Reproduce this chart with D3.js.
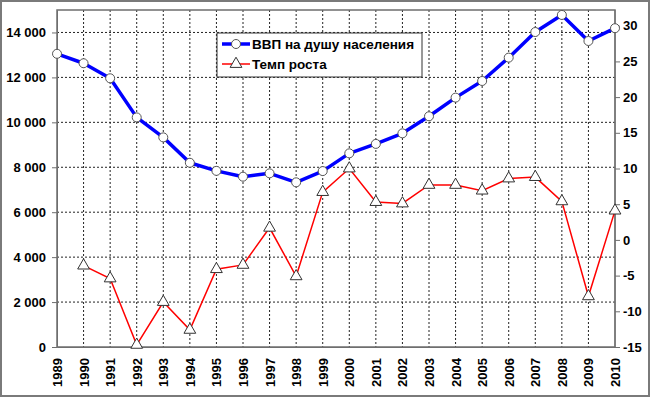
<!DOCTYPE html>
<html>
<head>
<meta charset="utf-8">
<script src="https://cdn.jsdelivr.net/npm/d3@7"></script>
<style>
  html, body { margin: 0; padding: 0; background: #fff; }
  svg { display: block; font-family: 'Liberation Sans', Arial, sans-serif; }
  .axis text { font-size: 13px; font-weight: bold; fill: #000; }
  .axis path, .axis line { stroke: #6e6e6e; }
  .grid line { stroke: #222; stroke-dasharray: 2 2; }
</style>
</head>
<body>
<div id="app"></div>
<script>
const years = d3.range(1989, 2011);
const gdpPerCapita = [13050, 12630, 11960, 10220, 9330, 8200, 7840, 7580, 7730, 7330, 7830,
  8620, 9040, 9510, 10270, 11100, 11840, 12880, 14020, 14780, 13620, 14190];
const growthRate = [null, -3.6, -5.4, -14.7, -8.7, -12.6, -4.1, -3.5, 1.7, -5.1, 6.7,
  10.0, 5.3, 5.1, 7.7, 7.7, 6.9, 8.6, 8.8, 5.4, -7.9, 4.1];
const leftTicks = [0, 2000, 4000, 6000, 8000, 10000, 12000, 14000];
const rightTicks = [-15, -10, -5, 0, 5, 10, 15, 20, 25, 30];
const seriesNames = ['ВВП на душу населения', 'Темп роста'];

const W = 650, H = 397;
const margin = { top: 10, right: 35, bottom: 50, left: 57 };
const width = W - margin.left - margin.right;
const height = H - margin.top - margin.bottom;

const locale = d3.formatLocale({ decimal: ',', thousands: ' ', grouping: [3], currency: ['', ''], minus: '-' });
const fmtLeft = locale.format(',');
const fmtRight = locale.format('d');

const svg = d3.select('#app').append('svg').attr('width', W).attr('height', H);

// outer frame
svg.append('rect')
  .attr('x', 1).attr('y', 1).attr('width', W - 2).attr('height', H - 2)
  .attr('fill', '#fff').attr('stroke', '#7a7a7a').attr('stroke-width', 2);

const bounds = svg.append('g').attr('transform', `translate(${margin.left},${margin.top})`);

// scales
const x = d3.scaleLinear().domain([1989, 2010]).range([0, width]);
const yLeft = d3.scaleLinear().domain([0, 15000]).range([height, 0]);
const yRight = d3.scaleLinear().domain([-15, 32.2]).range([height, 0]);

// grid
bounds.append('g').attr('class', 'grid')
  .selectAll('line.h').data(leftTicks.filter(d => d > 0)).enter().append('line')
  .attr('x1', 0).attr('x2', width)
  .attr('y1', d => yLeft(d)).attr('y2', d => yLeft(d));
bounds.append('g').attr('class', 'grid')
  .selectAll('line.v').data(years.slice(1, -1)).enter().append('line')
  .attr('y1', 0).attr('y2', height)
  .attr('x1', d => x(d)).attr('x2', d => x(d));

// plot frame
bounds.append('rect')
  .attr('width', width).attr('height', height)
  .attr('fill', 'none').attr('stroke', '#6e6e6e').attr('stroke-width', 1.5);

// axes
const leftAxis = bounds.append('g').attr('class', 'axis')
  .call(d3.axisLeft(yLeft).tickValues(leftTicks).tickFormat(fmtLeft).tickSize(5).tickSizeOuter(0));
leftAxis.selectAll('text').attr('dx', '-3');

const rightAxis = bounds.append('g').attr('class', 'axis')
  .attr('transform', `translate(${width},0)`)
  .call(d3.axisRight(yRight).tickValues(rightTicks).tickFormat(fmtRight).tickSize(5).tickSizeOuter(0));
rightAxis.select('.domain').attr('d', `M0,0V${height}`);

const xAxis = bounds.append('g').attr('class', 'axis')
  .attr('transform', `translate(0,${height})`)
  .call(d3.axisBottom(x).tickValues(years).tickFormat(d => d).tickSize(0).tickSizeOuter(0));
xAxis.selectAll('text')
  .attr('transform', 'rotate(-90)')
  .attr('text-anchor', 'end')
  .attr('x', -11).attr('y', 0).attr('dy', '0.35em');

// lines
const gdpLine = d3.line().x((d, i) => x(years[i])).y(d => yLeft(d));
bounds.append('path')
  .attr('d', gdpLine(gdpPerCapita))
  .attr('fill', 'none').attr('stroke', '#0000ff').attr('stroke-width', 3.5)
  .attr('stroke-linejoin', 'round');

const rateLine = d3.line().defined(d => d != null).x((d, i) => x(years[i])).y(d => yRight(d));
bounds.append('path')
  .attr('d', rateLine(growthRate))
  .attr('fill', 'none').attr('stroke', '#ff0000').attr('stroke-width', 1.5);

// markers
const triangle = d3.symbol().type(d3.symbolTriangle).size(60);
bounds.append('g').selectAll('path')
  .data(growthRate.map((v, i) => ({ v, year: years[i] })).filter(d => d.v != null))
  .enter().append('path')
  .attr('d', triangle)
  .attr('transform', d => `translate(${x(d.year)},${yRight(d.v)})`)
  .attr('fill', '#fff').attr('stroke', '#333').attr('stroke-width', 1);

bounds.append('g').selectAll('circle')
  .data(gdpPerCapita)
  .enter().append('circle')
  .attr('cx', (d, i) => x(years[i])).attr('cy', d => yLeft(d))
  .attr('r', 4.5)
  .attr('fill', '#fff').attr('stroke', '#555').attr('stroke-width', 1);

// legend
const legend = svg.append('g').attr('transform', 'translate(217,33)');
legend.append('rect')
  .attr('width', 205).attr('height', 44)
  .attr('fill', '#fff').attr('stroke', '#333').attr('stroke-width', 1);

const g1 = legend.append('g').attr('transform', 'translate(0,11)');
g1.append('line').attr('x1', 5).attr('x2', 33).attr('stroke', '#0000ff').attr('stroke-width', 3.5);
g1.append('circle').attr('cx', 19).attr('r', 4.5).attr('fill', '#fff').attr('stroke', '#555');
g1.append('text').attr('x', 35).attr('dy', '0.35em')
  .attr('font-size', 13.5).attr('font-weight', 'bold').text(seriesNames[0]);

const g2 = legend.append('g').attr('transform', 'translate(0,31)');
g2.append('line').attr('x1', 5).attr('x2', 33).attr('stroke', '#ff0000').attr('stroke-width', 1.5);
g2.append('path').attr('d', triangle).attr('transform', 'translate(19,0)')
  .attr('fill', '#fff').attr('stroke', '#333');
g2.append('text').attr('x', 35).attr('dy', '0.35em')
  .attr('font-size', 13.5).attr('font-weight', 'bold').text(seriesNames[1]);
</script>
</body>
</html>
